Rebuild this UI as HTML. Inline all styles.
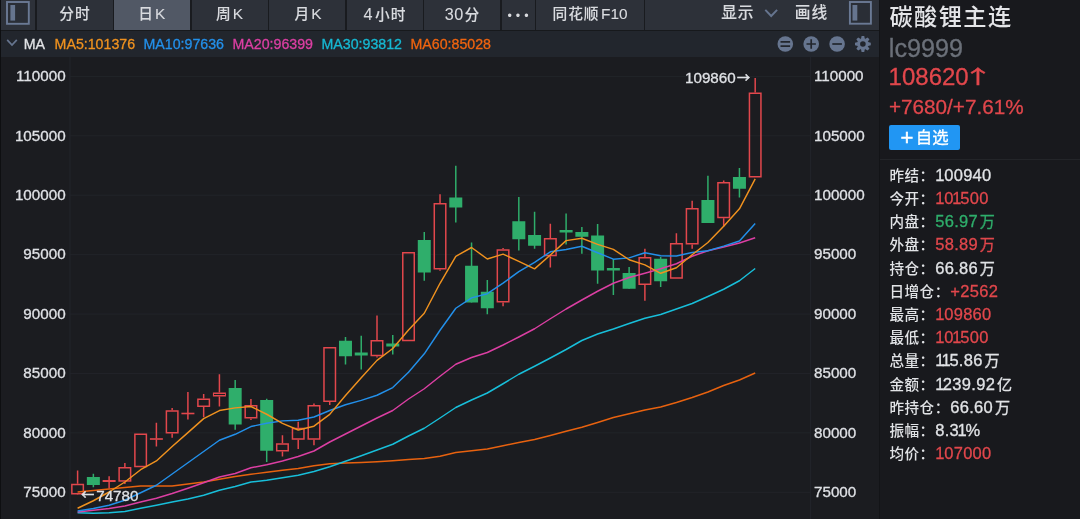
<!DOCTYPE html>
<html lang="zh-CN">
<head>
<meta charset="utf-8">
<title>碳酸锂主连 lc9999</title>
<style>
html,body{margin:0;padding:0;}
body{width:1080px;height:519px;overflow:hidden;background:#1b1c20;position:relative;
 font-family:"Liberation Sans","Noto Sans CJK SC",sans-serif;color:#dfe1e5;-webkit-text-stroke:0.3px;}
.abs{position:absolute;}
#hdr{position:absolute;left:0;top:0;width:879px;height:30px;background:#2d3139;}
#hdr .sep{position:absolute;top:0;width:1.5px;height:30px;background:#191b1f;}
#hdr .tab{position:absolute;top:0;height:30px;line-height:28.6px;text-align:center;font-size:14.7px;letter-spacing:1px;text-indent:1px;font-weight:500;-webkit-text-stroke:0.1px;color:#d9dbdf;white-space:nowrap;}
#hdr .sel{background:#515865;}
#hdrline{position:absolute;left:0;top:29.5px;width:879px;height:1.5px;background:#17191c;}
#mabar{position:absolute;left:0;top:31px;width:879px;height:26px;background:#22262d;}
#mabar span{position:absolute;top:0;line-height:26px;font-size:14.2px;white-space:nowrap;}
#leftedge{position:absolute;left:0;top:0;width:1px;height:519px;background:#0e0f11;}
.chart{position:absolute;left:0;top:57px;}
.ax{font-family:"Liberation Sans",sans-serif;font-size:15.2px;fill:#dfe1e5;stroke:#dfe1e5;stroke-width:0.3px;}
.ar{font-family:"Noto Sans CJK SC",sans-serif;font-size:13px;stroke-width:0.5px;}
#side{position:absolute;left:879px;top:0;width:201px;height:519px;background:#18191d;}
#sideedge{position:absolute;left:878.6px;top:0;width:1.4px;height:519px;background:#131417;}
.row{position:absolute;left:889.4px;height:23px;line-height:23px;white-space:nowrap;}
.row .k{font-size:14.6px;letter-spacing:0.5px;color:#e1e3e6;font-weight:500;-webkit-text-stroke:0;}
.row .v{font-size:16.5px;letter-spacing:0.3px;margin-left:0.5px;}
.row .v b{font-weight:normal;}
.n{margin:0 -0.09em;} .n0{margin:0 -0.03em 0 0;} .n0.nn{margin:0 -0.11em 0 0;}
.row .v i{font-style:normal;font-size:15.1px;margin-left:1.8px;letter-spacing:0;}
.up{display:inline-block;font-family:"Noto Sans CJK SC",sans-serif;font-size:21px;line-height:30px;width:16px;text-align:center;transform:translate(-2.6px,-0.8px) scale(1.45,0.9);transform-origin:50% 60%;-webkit-text-stroke:0.5px;}
.w{color:#e1e3e6;} .r{color:#e2474c;} .g{color:#2fae6b;}
</style>
</head>
<body>
<div id="hdr">
  <div class="tab" style="left:36px;width:77px;">分时</div>
  <div class="tab sel" style="left:113.5px;width:76.5px;">日<span style="margin-left:1.2px;font-size:15.4px">K</span></div>
  <div class="tab" style="left:191px;width:77px;">周<span style="margin-left:1.2px;font-size:15.4px">K</span></div>
  <div class="tab" style="left:269.5px;width:77px;">月<span style="margin-left:1.2px;font-size:15.4px">K</span></div>
  <div class="tab" style="left:346px;width:77px;"><span style="font-size:16.2px">4</span><span style="margin-left:1.5px">小时</span></div>
  <div class="tab" style="left:423.5px;width:77px;"><span style="font-size:16.2px;letter-spacing:0.3px">30</span><span style="margin-left:1px">分</span></div>
  <div class="tab" style="left:501px;width:34px;font-size:12.5px;letter-spacing:4px;text-indent:4px;line-height:33px;-webkit-text-stroke:0">•••</div>
  <div class="tab" style="left:536px;width:107px;">同花顺<span style="margin-left:1.5px;font-size:15.4px;letter-spacing:0">F10</span></div>
  <div class="tab" style="left:720.2px;font-size:15.7px;letter-spacing:1px;line-height:26.4px;">显示</div>
  <div class="tab" style="left:793.8px;font-size:15.7px;letter-spacing:1px;line-height:26.4px;">画线</div>
  <div class="sep" style="left:35px"></div>
  <div class="sep" style="left:112.5px"></div>
  <div class="sep" style="left:190px"></div>
  <div class="sep" style="left:267.5px"></div>
  <div class="sep" style="left:345px"></div>
  <div class="sep" style="left:422.5px"></div>
  <div class="sep" style="left:500px"></div>
  <div class="sep" style="left:534.5px"></div>
  <div class="sep" style="left:643.5px"></div>
  <svg class="abs" style="left:0;top:0" width="879" height="30" viewBox="0 0 879 30">
    <rect x="7" y="2" width="21.8" height="21.8" fill="#2a2e36" stroke="#6a7994" stroke-width="1.9"/>
    <rect x="10.4" y="5" width="4.7" height="15.6" fill="#66758f"/>
    <rect x="849.9" y="2" width="21" height="21.7" fill="#2a2e36" stroke="#6a7994" stroke-width="1.9"/>
    <rect x="852.5" y="5" width="4.8" height="15.6" fill="#66758f"/>
    <polyline points="765.3,9.8 771.2,16 777.1,9.8" fill="none" stroke="#66758f" stroke-width="1.9"/>
  </svg>
</div>
<div id="hdrline"></div>
<div id="mabar">
  <svg class="abs" style="left:0;top:0" width="879" height="26" viewBox="0 31 879 26">
    <polyline points="7.2,39.9 12,45 16.8,39.9" fill="none" stroke="#66758f" stroke-width="1.7"/>
    <g fill="#66758f">
      <circle cx="785.3" cy="44" r="7.8"/>
      <circle cx="811.2" cy="44" r="7.8"/>
      <circle cx="837.1" cy="44" r="7.8"/>
    </g>
    <g stroke="#22262d" stroke-width="1.7" fill="none">
      <path d="M780.5 41.8h9.6M780.5 46.1h9.6"/>
      <path d="M806.5 44h9.4M811.2 39.3v9.4"/>
      <path d="M832.3 44h9.6"/>
    </g>
    <g transform="translate(862.9,44)" fill="#66758f">
      <circle r="4.25" fill="none" stroke="#66758f" stroke-width="2.9"/>
      <polygon transform="rotate(0)" points="-1.9,-5 -1.35,-7.9 1.35,-7.9 1.9,-5"/><polygon transform="rotate(45)" points="-1.9,-5 -1.35,-7.9 1.35,-7.9 1.9,-5"/><polygon transform="rotate(90)" points="-1.9,-5 -1.35,-7.9 1.35,-7.9 1.9,-5"/><polygon transform="rotate(135)" points="-1.9,-5 -1.35,-7.9 1.35,-7.9 1.9,-5"/><polygon transform="rotate(180)" points="-1.9,-5 -1.35,-7.9 1.35,-7.9 1.9,-5"/><polygon transform="rotate(225)" points="-1.9,-5 -1.35,-7.9 1.35,-7.9 1.9,-5"/><polygon transform="rotate(270)" points="-1.9,-5 -1.35,-7.9 1.35,-7.9 1.9,-5"/><polygon transform="rotate(315)" points="-1.9,-5 -1.35,-7.9 1.35,-7.9 1.9,-5"/>
    </g>
  </svg>
  <span style="left:23.8px;color:#e1e3e6">MA</span>
  <span style="left:54.6px;color:#f0921f">MA5:101376</span>
  <span style="left:143.5px;color:#2390ea">MA10:97636</span>
  <span style="left:232.5px;color:#dc3fa3">MA20:96399</span>
  <span style="left:321.5px;color:#16b9d3">MA30:93812</span>
  <span style="left:410.5px;color:#f0640f">MA60:85028</span>
</div>
<svg class="chart" width="880" height="462" viewBox="0 57 880 462">
<line x1="70" x2="810" y1="76.40" y2="76.40" stroke="#222429" stroke-width="1"/>
<line x1="70" x2="810" y1="135.81" y2="135.81" stroke="#222429" stroke-width="1"/>
<line x1="70" x2="810" y1="195.22" y2="195.22" stroke="#222429" stroke-width="1"/>
<line x1="70" x2="810" y1="254.63" y2="254.63" stroke="#222429" stroke-width="1"/>
<line x1="70" x2="810" y1="314.04" y2="314.04" stroke="#222429" stroke-width="1"/>
<line x1="70" x2="810" y1="373.45" y2="373.45" stroke="#222429" stroke-width="1"/>
<line x1="70" x2="810" y1="432.86" y2="432.86" stroke="#222429" stroke-width="1"/>
<line x1="70" x2="810" y1="492.27" y2="492.27" stroke="#222429" stroke-width="1"/>
<line x1="70" x2="70" y1="57" y2="519" stroke="#23252a" stroke-width="1"/>
<line x1="810.6" x2="810.6" y1="57" y2="519" stroke="#23252a" stroke-width="1"/>
<line x1="77.60" x2="77.60" y1="470.50" y2="483.75" stroke="#e2474c" stroke-width="1.5"/>
<line x1="77.60" x2="77.60" y1="494.50" y2="494.90" stroke="#e2474c" stroke-width="1.5"/>
<rect x="71.85" y="484.50" width="11.50" height="9.25" fill="none" stroke="#e2474c" stroke-width="1.5"/>
<line x1="93.36" x2="93.36" y1="473.75" y2="487.25" stroke="#2fae6b" stroke-width="1.5"/>
<rect x="86.86" y="477.00" width="13.0" height="8.00" fill="#2fae6b"/>
<line x1="109.12" x2="109.12" y1="476.25" y2="480.30" stroke="#e2474c" stroke-width="1.5"/>
<line x1="109.12" x2="109.12" y1="481.70" y2="488.50" stroke="#e2474c" stroke-width="1.5"/>
<rect x="102.62" y="480.00" width="13.0" height="2.00" fill="#e2474c"/>
<line x1="124.87" x2="124.87" y1="463.00" y2="467.00" stroke="#e2474c" stroke-width="1.5"/>
<line x1="124.87" x2="124.87" y1="481.70" y2="484.00" stroke="#e2474c" stroke-width="1.5"/>
<rect x="119.12" y="467.75" width="11.50" height="13.20" fill="none" stroke="#e2474c" stroke-width="1.5"/>
<rect x="134.88" y="434.25" width="11.50" height="32.25" fill="none" stroke="#e2474c" stroke-width="1.5"/>
<line x1="156.39" x2="156.39" y1="422.75" y2="438.50" stroke="#e2474c" stroke-width="1.5"/>
<line x1="156.39" x2="156.39" y1="439.50" y2="446.50" stroke="#e2474c" stroke-width="1.5"/>
<rect x="149.89" y="438.20" width="13.0" height="1.60" fill="#e2474c"/>
<line x1="172.15" x2="172.15" y1="408.00" y2="410.25" stroke="#e2474c" stroke-width="1.5"/>
<line x1="172.15" x2="172.15" y1="433.50" y2="437.75" stroke="#e2474c" stroke-width="1.5"/>
<rect x="166.40" y="411.00" width="11.50" height="21.75" fill="none" stroke="#e2474c" stroke-width="1.5"/>
<line x1="187.91" x2="187.91" y1="392.00" y2="413.00" stroke="#e2474c" stroke-width="1.5"/>
<line x1="187.91" x2="187.91" y1="414.00" y2="419.50" stroke="#e2474c" stroke-width="1.5"/>
<rect x="181.41" y="412.70" width="13.0" height="1.60" fill="#e2474c"/>
<line x1="203.66" x2="203.66" y1="394.00" y2="398.50" stroke="#e2474c" stroke-width="1.5"/>
<line x1="203.66" x2="203.66" y1="407.00" y2="417.25" stroke="#e2474c" stroke-width="1.5"/>
<rect x="197.91" y="399.25" width="11.50" height="7.00" fill="none" stroke="#e2474c" stroke-width="1.5"/>
<line x1="219.42" x2="219.42" y1="374.25" y2="392.50" stroke="#e2474c" stroke-width="1.5"/>
<line x1="219.42" x2="219.42" y1="396.50" y2="406.50" stroke="#e2474c" stroke-width="1.5"/>
<rect x="213.67" y="393.25" width="11.50" height="2.50" fill="none" stroke="#e2474c" stroke-width="1.5"/>
<line x1="235.18" x2="235.18" y1="380.00" y2="429.75" stroke="#2fae6b" stroke-width="1.5"/>
<rect x="228.68" y="388.00" width="13.0" height="36.50" fill="#2fae6b"/>
<line x1="250.94" x2="250.94" y1="399.00" y2="405.00" stroke="#e2474c" stroke-width="1.5"/>
<line x1="250.94" x2="250.94" y1="418.50" y2="420.00" stroke="#e2474c" stroke-width="1.5"/>
<rect x="245.19" y="405.75" width="11.50" height="12.00" fill="none" stroke="#e2474c" stroke-width="1.5"/>
<line x1="266.70" x2="266.70" y1="398.75" y2="462.00" stroke="#2fae6b" stroke-width="1.5"/>
<rect x="260.20" y="400.00" width="13.0" height="50.75" fill="#2fae6b"/>
<line x1="282.45" x2="282.45" y1="435.25" y2="443.25" stroke="#e2474c" stroke-width="1.5"/>
<line x1="282.45" x2="282.45" y1="451.50" y2="456.50" stroke="#e2474c" stroke-width="1.5"/>
<rect x="276.70" y="444.00" width="11.50" height="6.75" fill="none" stroke="#e2474c" stroke-width="1.5"/>
<line x1="298.21" x2="298.21" y1="421.75" y2="427.75" stroke="#e2474c" stroke-width="1.5"/>
<line x1="298.21" x2="298.21" y1="439.75" y2="449.00" stroke="#e2474c" stroke-width="1.5"/>
<rect x="292.46" y="428.50" width="11.50" height="10.50" fill="none" stroke="#e2474c" stroke-width="1.5"/>
<line x1="313.97" x2="313.97" y1="403.50" y2="405.00" stroke="#e2474c" stroke-width="1.5"/>
<line x1="313.97" x2="313.97" y1="439.75" y2="445.25" stroke="#e2474c" stroke-width="1.5"/>
<rect x="308.22" y="405.75" width="11.50" height="33.25" fill="none" stroke="#e2474c" stroke-width="1.5"/>
<line x1="329.73" x2="329.73" y1="402.00" y2="405.00" stroke="#e2474c" stroke-width="1.5"/>
<rect x="323.98" y="347.75" width="11.50" height="53.50" fill="none" stroke="#e2474c" stroke-width="1.5"/>
<line x1="345.49" x2="345.49" y1="337.00" y2="364.50" stroke="#2fae6b" stroke-width="1.5"/>
<rect x="338.99" y="340.75" width="13.0" height="15.50" fill="#2fae6b"/>
<line x1="361.24" x2="361.24" y1="335.75" y2="369.50" stroke="#2fae6b" stroke-width="1.5"/>
<rect x="354.74" y="352.50" width="13.0" height="3.00" fill="#2fae6b"/>
<line x1="377.00" x2="377.00" y1="315.50" y2="340.00" stroke="#e2474c" stroke-width="1.5"/>
<line x1="377.00" x2="377.00" y1="356.25" y2="357.50" stroke="#e2474c" stroke-width="1.5"/>
<rect x="371.25" y="340.75" width="11.50" height="14.75" fill="none" stroke="#e2474c" stroke-width="1.5"/>
<line x1="392.76" x2="392.76" y1="335.00" y2="354.50" stroke="#2fae6b" stroke-width="1.5"/>
<rect x="386.26" y="343.50" width="13.0" height="3.00" fill="#2fae6b"/>
<rect x="402.77" y="252.75" width="11.50" height="87.75" fill="none" stroke="#e2474c" stroke-width="1.5"/>
<line x1="424.28" x2="424.28" y1="232.00" y2="280.75" stroke="#2fae6b" stroke-width="1.5"/>
<rect x="417.78" y="240.00" width="13.0" height="32.50" fill="#2fae6b"/>
<line x1="440.03" x2="440.03" y1="194.25" y2="203.00" stroke="#e2474c" stroke-width="1.5"/>
<line x1="440.03" x2="440.03" y1="269.50" y2="270.75" stroke="#e2474c" stroke-width="1.5"/>
<rect x="434.28" y="203.75" width="11.50" height="65.00" fill="none" stroke="#e2474c" stroke-width="1.5"/>
<line x1="455.79" x2="455.79" y1="165.75" y2="222.50" stroke="#2fae6b" stroke-width="1.5"/>
<rect x="449.29" y="197.50" width="13.0" height="10.00" fill="#2fae6b"/>
<line x1="471.55" x2="471.55" y1="242.50" y2="302.50" stroke="#2fae6b" stroke-width="1.5"/>
<rect x="465.05" y="265.75" width="13.0" height="36.75" fill="#2fae6b"/>
<line x1="487.31" x2="487.31" y1="280.00" y2="314.25" stroke="#2fae6b" stroke-width="1.5"/>
<rect x="480.81" y="291.75" width="13.0" height="16.50" fill="#2fae6b"/>
<line x1="503.07" x2="503.07" y1="248.00" y2="249.25" stroke="#e2474c" stroke-width="1.5"/>
<line x1="503.07" x2="503.07" y1="302.50" y2="306.25" stroke="#e2474c" stroke-width="1.5"/>
<rect x="497.32" y="250.00" width="11.50" height="51.75" fill="none" stroke="#e2474c" stroke-width="1.5"/>
<line x1="518.82" x2="518.82" y1="197.00" y2="250.50" stroke="#2fae6b" stroke-width="1.5"/>
<rect x="512.32" y="221.25" width="13.0" height="18.00" fill="#2fae6b"/>
<line x1="534.58" x2="534.58" y1="211.75" y2="248.75" stroke="#2fae6b" stroke-width="1.5"/>
<rect x="528.08" y="235.00" width="13.0" height="10.75" fill="#2fae6b"/>
<line x1="550.34" x2="550.34" y1="223.75" y2="238.00" stroke="#e2474c" stroke-width="1.5"/>
<line x1="550.34" x2="550.34" y1="256.25" y2="267.50" stroke="#e2474c" stroke-width="1.5"/>
<rect x="544.59" y="238.75" width="11.50" height="16.75" fill="none" stroke="#e2474c" stroke-width="1.5"/>
<line x1="566.10" x2="566.10" y1="213.50" y2="244.50" stroke="#2fae6b" stroke-width="1.5"/>
<rect x="559.60" y="230.00" width="13.0" height="2.50" fill="#2fae6b"/>
<line x1="581.86" x2="581.86" y1="227.00" y2="253.75" stroke="#2fae6b" stroke-width="1.5"/>
<rect x="575.36" y="232.00" width="13.0" height="4.75" fill="#2fae6b"/>
<line x1="597.61" x2="597.61" y1="224.00" y2="283.75" stroke="#2fae6b" stroke-width="1.5"/>
<rect x="591.11" y="235.50" width="13.0" height="35.00" fill="#2fae6b"/>
<line x1="613.37" x2="613.37" y1="259.00" y2="295.00" stroke="#2fae6b" stroke-width="1.5"/>
<rect x="606.87" y="268.00" width="13.0" height="2.50" fill="#2fae6b"/>
<line x1="629.13" x2="629.13" y1="267.00" y2="288.75" stroke="#2fae6b" stroke-width="1.5"/>
<rect x="622.63" y="273.00" width="13.0" height="15.75" fill="#2fae6b"/>
<line x1="644.89" x2="644.89" y1="248.75" y2="257.00" stroke="#e2474c" stroke-width="1.5"/>
<line x1="644.89" x2="644.89" y1="285.00" y2="300.75" stroke="#e2474c" stroke-width="1.5"/>
<rect x="639.14" y="257.75" width="11.50" height="26.50" fill="none" stroke="#e2474c" stroke-width="1.5"/>
<line x1="660.65" x2="660.65" y1="257.00" y2="287.00" stroke="#2fae6b" stroke-width="1.5"/>
<rect x="654.15" y="258.75" width="13.0" height="22.50" fill="#2fae6b"/>
<line x1="676.40" x2="676.40" y1="233.25" y2="243.00" stroke="#e2474c" stroke-width="1.5"/>
<rect x="670.65" y="243.75" width="11.50" height="34.25" fill="none" stroke="#e2474c" stroke-width="1.5"/>
<line x1="692.16" x2="692.16" y1="200.75" y2="208.00" stroke="#e2474c" stroke-width="1.5"/>
<line x1="692.16" x2="692.16" y1="244.50" y2="248.75" stroke="#e2474c" stroke-width="1.5"/>
<rect x="686.41" y="208.75" width="11.50" height="35.00" fill="none" stroke="#e2474c" stroke-width="1.5"/>
<line x1="707.92" x2="707.92" y1="175.75" y2="223.00" stroke="#2fae6b" stroke-width="1.5"/>
<rect x="701.42" y="200.00" width="13.0" height="23.00" fill="#2fae6b"/>
<line x1="723.68" x2="723.68" y1="180.50" y2="182.00" stroke="#e2474c" stroke-width="1.5"/>
<line x1="723.68" x2="723.68" y1="218.25" y2="226.50" stroke="#e2474c" stroke-width="1.5"/>
<rect x="717.93" y="182.75" width="11.50" height="34.75" fill="none" stroke="#e2474c" stroke-width="1.5"/>
<line x1="739.44" x2="739.44" y1="168.00" y2="197.50" stroke="#2fae6b" stroke-width="1.5"/>
<rect x="732.94" y="177.00" width="13.0" height="11.75" fill="#2fae6b"/>
<line x1="755.19" x2="755.19" y1="78.00" y2="92.50" stroke="#e2474c" stroke-width="1.5"/>
<rect x="749.44" y="93.25" width="11.50" height="83.50" fill="none" stroke="#e2474c" stroke-width="1.5"/>
<polyline points="77.60,492.00 93.36,490.50 109.12,489.00 124.87,487.50 140.63,486.00 156.39,486.00 172.15,486.00 187.91,484.00 203.66,482.00 219.42,479.25 235.18,476.50 250.94,474.25 266.70,472.25 282.45,470.25 298.21,468.50 313.97,465.75 329.73,463.75 345.49,463.00 361.24,462.50 377.00,461.75 392.76,460.75 408.52,459.50 424.28,458.50 440.03,456.25 455.79,452.50 471.55,450.75 487.31,449.00 503.07,445.75 518.82,442.50 534.58,439.50 550.34,435.50 566.10,431.25 581.86,427.25 597.61,422.50 613.37,417.50 629.13,413.75 644.89,410.00 660.65,407.00 676.40,402.50 692.16,397.50 707.92,392.00 723.68,385.50 739.44,380.00 755.19,373.00" fill="none" stroke="#e8620f" stroke-width="1.45" stroke-linejoin="round" stroke-linecap="butt"/>
<polyline points="77.60,512.75 93.36,513.25 109.12,512.75 124.87,511.50 140.63,508.25 156.39,505.25 172.15,502.00 187.91,499.00 203.66,495.25 219.42,490.25 235.18,486.50 250.94,482.00 266.70,480.25 282.45,477.75 298.21,475.25 313.97,471.50 329.73,466.75 345.49,461.25 361.24,455.75 377.00,450.00 392.76,444.25 408.52,436.00 424.28,428.25 440.03,418.00 455.79,407.50 471.55,400.00 487.31,393.00 503.07,383.75 518.82,374.25 534.58,366.25 550.34,358.00 566.10,349.50 581.86,340.50 597.61,334.00 613.37,329.00 629.13,323.50 644.89,318.25 660.65,314.50 676.40,309.00 692.16,303.50 707.92,296.50 723.68,289.25 739.44,280.75 755.19,268.50" fill="none" stroke="#18bfda" stroke-width="1.45" stroke-linejoin="round" stroke-linecap="butt"/>
<polyline points="77.60,512.00 93.36,510.25 109.12,508.50 124.87,506.00 140.63,502.00 156.39,498.25 172.15,493.50 187.91,488.25 203.66,482.75 219.42,477.00 235.18,473.50 250.94,467.75 266.70,464.75 282.45,461.00 298.21,456.50 313.97,451.00 329.73,442.00 345.49,434.00 361.24,426.00 377.00,418.00 392.76,410.50 408.52,399.00 424.28,388.75 440.03,376.25 455.79,364.25 471.55,357.50 487.31,352.50 503.07,345.00 518.82,337.00 534.58,328.75 550.34,318.75 566.10,309.00 581.86,300.00 597.61,291.25 613.37,283.25 629.13,277.50 644.89,273.25 660.65,268.75 676.40,263.75 692.16,256.25 707.92,250.75 723.68,247.00 739.44,243.00 755.19,237.75" fill="none" stroke="#dc3fa3" stroke-width="1.45" stroke-linejoin="round" stroke-linecap="butt"/>
<polyline points="77.60,511.00 93.36,508.50 109.12,505.25 124.87,500.25 140.63,492.75 156.39,485.25 172.15,474.00 187.91,462.75 203.66,451.50 219.42,440.24 235.18,434.28 250.94,426.53 266.70,423.18 282.45,420.86 298.21,420.20 313.97,417.02 329.73,410.49 345.49,404.77 361.24,400.38 377.00,395.25 392.76,387.60 408.52,372.20 424.28,353.79 440.03,330.27 455.79,308.26 471.55,297.89 487.31,293.70 503.07,283.10 518.82,271.66 534.58,262.32 550.34,251.78 566.10,249.43 581.86,246.26 597.61,252.76 613.37,259.16 629.13,257.85 644.89,252.79 660.65,255.76 676.40,255.95 692.16,252.56 707.92,250.81 723.68,246.16 739.44,241.01 755.19,223.61" fill="none" stroke="#2390ea" stroke-width="1.45" stroke-linejoin="round" stroke-linecap="butt"/>
<polyline points="77.60,508.25 93.36,500.75 109.12,492.00 124.87,482.00 140.63,469.71 156.39,460.93 172.15,446.46 187.91,432.60 203.66,418.62 219.42,410.52 235.18,407.88 250.94,406.48 266.70,414.25 282.45,423.35 298.21,430.00 313.97,426.18 329.73,414.38 345.49,395.43 361.24,377.65 377.00,360.38 392.76,348.52 408.52,330.02 424.28,313.27 440.03,283.27 455.79,256.27 471.55,247.50 487.31,259.00 503.07,254.18 518.82,261.30 534.58,268.88 550.34,254.93 566.10,240.60 581.86,238.22 597.61,244.35 613.37,249.32 629.13,259.77 644.89,264.85 660.65,273.30 676.40,267.80 692.16,254.80 707.92,242.45 723.68,226.22 739.44,208.85 755.19,178.80" fill="none" stroke="#f0921f" stroke-width="1.45" stroke-linejoin="round" stroke-linecap="butt"/>
<text x="65.6" y="81.10" text-anchor="end" class="ax">110000</text>
<text x="814" y="81.10" class="ax">110000</text>
<text x="65.6" y="140.51" text-anchor="end" class="ax">105000</text>
<text x="814" y="140.51" class="ax">105000</text>
<text x="65.6" y="199.92" text-anchor="end" class="ax">100000</text>
<text x="814" y="199.92" class="ax">100000</text>
<text x="65.6" y="259.33" text-anchor="end" class="ax">95000</text>
<text x="814" y="259.33" class="ax">95000</text>
<text x="65.6" y="318.74" text-anchor="end" class="ax">90000</text>
<text x="814" y="318.74" class="ax">90000</text>
<text x="65.6" y="378.15" text-anchor="end" class="ax">85000</text>
<text x="814" y="378.15" class="ax">85000</text>
<text x="65.6" y="437.56" text-anchor="end" class="ax">80000</text>
<text x="814" y="437.56" class="ax">80000</text>
<text x="65.6" y="496.97" text-anchor="end" class="ax">75000</text>
<text x="814" y="496.97" class="ax">75000</text>
<text x="735.7" y="82.9" text-anchor="end" class="ax">109860</text>
<text x="743.5" y="82.3" text-anchor="middle" class="ax ar">→</text>
<text x="87.7" y="499.3" text-anchor="middle" class="ax ar">←</text>
<text x="96.2" y="500.5" class="ax">74780</text>
</svg>
<div id="side"></div>
<div id="sideedge"></div>
<div id="leftedge"></div>
<div class="abs" style="left:889.4px;top:0.4px;font-size:23.2px;letter-spacing:1.45px;font-weight:500;-webkit-text-stroke:0;line-height:34px;color:#e4e5e8;white-space:nowrap;">碳酸锂主连</div>
<div class="abs" style="left:888.8px;top:32.7px;font-size:25.2px;line-height:30px;color:#6b7079;white-space:nowrap;">lc9999</div>
<div class="abs r" style="left:888.6px;top:61.3px;font-size:24px;line-height:30px;white-space:nowrap;">108620<span class="up">↑</span></div>
<div class="abs r" style="left:889px;top:92.5px;font-size:20.7px;line-height:28px;white-space:nowrap;">+7680/+7.61%</div>
<div class="abs" style="left:889px;top:125px;width:71px;height:24.5px;background:#2196f3;border-radius:2px;color:#fff;font-size:16.4px;line-height:24px;text-align:center;white-space:nowrap;"><span style="font-size:22px;line-height:0;position:relative;top:1.5px;margin-right:2.5px;-webkit-text-stroke:0.5px;">+</span>自选</div>
<div class="abs" style="left:880px;top:158.5px;width:200px;height:1px;background:#232529;"></div>
<div class="row" style="top:163.7px"><span class="k">昨结：</span><span class="v w"><b class="n0">1</b>00940</span></div>
<div class="row" style="top:186.9px"><span class="k">今开：</span><span class="v r"><b class="n0">1</b>0<b class="n">1</b>500</span></div>
<div class="row" style="top:210.1px"><span class="k">内盘：</span><span class="v g">56.97<i>万</i></span></div>
<div class="row" style="top:233.3px"><span class="k">外盘：</span><span class="v r">58.89<i>万</i></span></div>
<div class="row" style="top:256.5px"><span class="k">持仓：</span><span class="v w">66.86<i>万</i></span></div>
<div class="row" style="top:279.7px"><span class="k">日增仓：</span><span class="v r">+2562</span></div>
<div class="row" style="top:302.9px"><span class="k">最高：</span><span class="v r"><b class="n0">1</b>09860</span></div>
<div class="row" style="top:326.1px"><span class="k">最低：</span><span class="v r"><b class="n0">1</b>0<b class="n">1</b>500</span></div>
<div class="row" style="top:349.3px"><span class="k">总量：</span><span class="v w"><b class="n0 nn">1</b><b class="n">1</b>5.86<i>万</i></span></div>
<div class="row" style="top:372.5px"><span class="k">金额：</span><span class="v w"><b class="n0 nn">1</b>239.92<i>亿</i></span></div>
<div class="row" style="top:395.7px"><span class="k">昨持仓：</span><span class="v w">66.60<i>万</i></span></div>
<div class="row" style="top:418.9px"><span class="k">振幅：</span><span class="v w">8.3<b class="n">1</b>%</span></div>
<div class="row" style="top:442.1px"><span class="k">均价：</span><span class="v r"><b class="n0">1</b>07000</span></div>
</body>
</html>
